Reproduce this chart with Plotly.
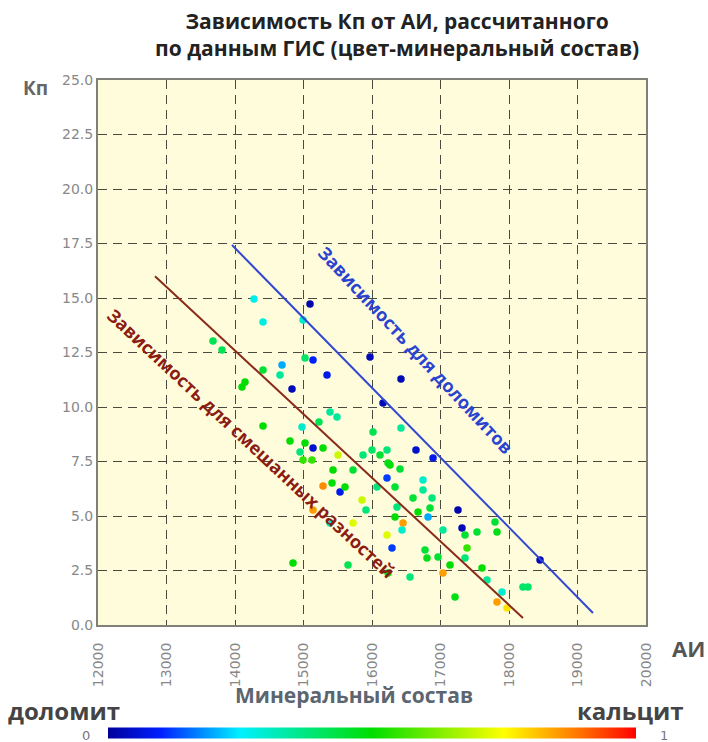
import plotly.graph_objects as go

# ---------------- data ----------------
ai = [14277, 14409, 15095, 14993, 13679, 13810, 15022, 15139, 14686, 14657,
      14409, 15343, 14146, 14102, 14832, 15387, 15489, 15226, 14409, 14978,
      14803, 15022, 15139, 15285, 14949, 14993, 15504, 16423, 16161, 16015,
      16423, 15124, 15869, 16000, 16117, 16263, 16409, 16642, 16891, 15431,
      15723, 15285, 15533, 15606, 16073, 16219, 16336, 16599, 16745, 16876,
      16745, 15854, 15912, 16365, 16336, 16672, 16847, 16818, 15723, 16453,
      15971, 16219, 16234, 17255, 16219, 16438, 16292, 17314, 17036, 17358,
      17533, 17796, 17825, 17387, 16774, 16803, 16964, 17139, 17358, 17606,
      17036, 16555, 16234, 15650, 17679, 18204, 18277, 17898, 17212, 17825,
      17971, 18453, 14847, 15139, 15387, 15416]
kp = [14.95, 13.90, 14.72, 13.99, 13.03, 12.61, 12.25, 12.16, 11.93, 11.47,
      11.70, 11.47, 11.15, 10.92, 10.83, 9.77, 9.54, 9.31, 9.13, 9.08,
      8.44, 8.35, 8.12, 8.12, 7.94, 7.57, 7.80, 11.28, 10.18, 8.85,
      9.04, 7.57, 7.80, 8.03, 7.80, 7.34, 7.16, 8.03, 7.66, 7.11,
      7.11, 6.38, 6.10, 6.33, 6.33, 6.74, 6.33, 5.83, 6.19, 5.83,
      6.65, 5.73, 5.28, 5.41, 4.95, 5.18, 5.37, 4.95, 4.68, 4.68,
      12.29, 8.03, 7.43, 5.28, 4.13, 4.36, 3.53, 4.45, 4.36, 4.13,
      4.27, 4.72, 4.27, 3.53, 3.44, 3.07, 3.12, 2.75, 3.07, 2.61,
      2.39, 2.20, 2.39, 2.75, 2.06, 1.74, 1.74, 1.51, 1.28, 1.06,
      0.78, 2.98, 2.84, 5.28, 4.68, 6.51]
mineral = [0.27, 0.28, 0.02, 0.30, 0.42, 0.42, 0.40, 0.10, 0.20, 0.35,
           0.45, 0.08, 0.50, 0.50, 0.03, 0.35, 0.35, 0.42, 0.50, 0.30,
           0.50, 0.50, 0.05, 0.50, 0.38, 0.55, 0.70, 0.03, 0.03, 0.42,
           0.35, 0.55, 0.38, 0.40, 0.45, 0.50, 0.45, 0.05, 0.08, 0.50,
           0.45, 0.87, 0.08, 0.50, 0.38, 0.12, 0.45, 0.45, 0.35, 0.38,
           0.30, 0.70, 0.38, 0.38, 0.50, 0.50, 0.45, 0.20, 0.72, 0.85,
           0.03, 0.38, 0.48, 0.02, 0.72, 0.30, 0.12, 0.03, 0.35, 0.45,
           0.45, 0.45, 0.48, 0.55, 0.45, 0.48, 0.45, 0.50, 0.38, 0.50,
           0.85, 0.38, 0.48, 0.42, 0.35, 0.40, 0.40, 0.30, 0.48, 0.85,
           0.78, 0.03, 0.50, 0.85, 0.30, 0.50]

dolomite_line_ai = [13956, 19226]
dolomite_line_kp = [17.43, 0.55]
mixed_line_ai = [12832, 18204]
mixed_line_kp = [16.0, 0.32]

x_ticks = [12000, 13000, 14000, 15000, 16000, 17000, 18000, 19000, 20000]
y_ticks = [0, 2.5, 5, 7.5, 10, 12.5, 15, 17.5, 20, 22.5, 25]

title_text = "Зависимость Кп от АИ, рассчитанного<br>по данным ГИС (цвет-минеральный состав)"

# ---------------- layout helpers ----------------
L, R, T, B = 98, 646, 80, 625
W, H = 708, 742


def px(xp):
    return (xp - L) / (R - L)


def py(yp):
    return (B - yp) / (B - T)


colorscale = [[0.0, "#00009a"], [0.1, "#0020ff"], [0.25, "#00f0ff"],
              [0.5, "#00dd00"], [0.75, "#ffff00"], [0.88, "#ff8000"],
              [1.0, "#ff0000"]]

fig = go.Figure()

fig.add_trace(go.Scatter(
    x=ai, y=kp, mode="markers",
    marker=dict(size=7.5, color=mineral, colorscale=colorscale, cmin=0, cmax=1,
                line=dict(width=0),
                colorbar=dict(orientation="h", x=0.5, xanchor="center",
                              y=py(733), yanchor="middle", len=1, lenmode="fraction",
                              thickness=11, thicknessmode="pixels",
                              showticklabels=False, ticks="", outlinewidth=0)),
    showlegend=False, hoverinfo="skip"))

fig.add_trace(go.Scatter(x=dolomite_line_ai, y=dolomite_line_kp, mode="lines",
                         line=dict(color="#3348d0", width=2), showlegend=False))
fig.add_trace(go.Scatter(x=mixed_line_ai, y=mixed_line_kp, mode="lines",
                         line=dict(color="#8a2a18", width=2), showlegend=False))

tick_font = dict(family="DejaVu Sans", size=14, color="#888888")
grid_style = dict(showgrid=True, gridcolor="#4a4a40", griddash="9px,6px", gridwidth=1.3)

fig.update_layout(
    width=W, height=H,
    margin=dict(l=L, r=W - R, t=T, b=H - B, autoexpand=False),
    paper_bgcolor="white", plot_bgcolor="#fffcdc",
    xaxis=dict(range=[12000, 20000], tickvals=x_ticks, ticktext=[str(v) for v in x_ticks],
               tickangle=-90, tickfont=tick_font, showline=True, linecolor="#808078",
               linewidth=2, mirror=True, zeroline=False, ticks="", ticklabelstandoff=10,
               automargin=False, **grid_style),
    yaxis=dict(range=[0, 25], tickvals=y_ticks, ticktext=[f"{v:.1f}" for v in y_ticks],
               tickfont=tick_font, showline=True, linecolor="#808078", linewidth=2,
               mirror=True, zeroline=False, ticks="", automargin=False, **grid_style),
    yaxis2=dict(range=[0, 25], tickvals=y_ticks, ticktext=[f"{v:.1f}" for v in y_ticks],
                tickfont=tick_font, overlaying="y", side="right", anchor="x",
                showgrid=False, zeroline=False, ticks="", showline=False, automargin=False),
    font=dict(family="Open Sans"),
)

bold = "Open Sans"


def lab(xp, yp, text, size, color, family=bold):
    return dict(x=px(xp), y=py(yp), text=text, xref="paper", yref="paper",
                xanchor="center", yanchor="middle",
                font=dict(family=family, size=size, color=color), showarrow=False)


ann = [
    lab(397, 34, "<b>" + title_text + "</b>", 21, "#222222"),
    lab(35, 88, "<b>Кп</b>", 19, "#666666"),
    lab(688, 648, "<b>АИ</b>", 22, "#555555"),
    lab(354, 695, "<b>Минеральный состав</b>", 21, "#5c6670"),
    lab(64, 710, "<b>доломит</b>", 24, "#444444"),
    lab(630, 710, "<b>кальцит</b>", 24, "#444444"),
    lab(86, 735, "0", 13, "#777777", "DejaVu Sans"),
    lab(664, 735, "1", 13, "#777777", "DejaVu Sans"),
    dict(x=16642, y=12.61, text="<b>Зависимость для доломитов</b>", xref="x", yref="y",
         xanchor="center", yanchor="middle",
         textangle=47, font=dict(family=bold, size=18, color="#2a44d0"), showarrow=False),
    dict(x=14234, y=8.35, text="<b>Зависимость для смешанных разностей</b>", xref="x", yref="y",
         xanchor="center", yanchor="middle",
         textangle=43, font=dict(family=bold, size=18, color="#8b1c12"), showarrow=False),
]
fig.update_layout(annotations=ann)

fig.write_html("out.html")
